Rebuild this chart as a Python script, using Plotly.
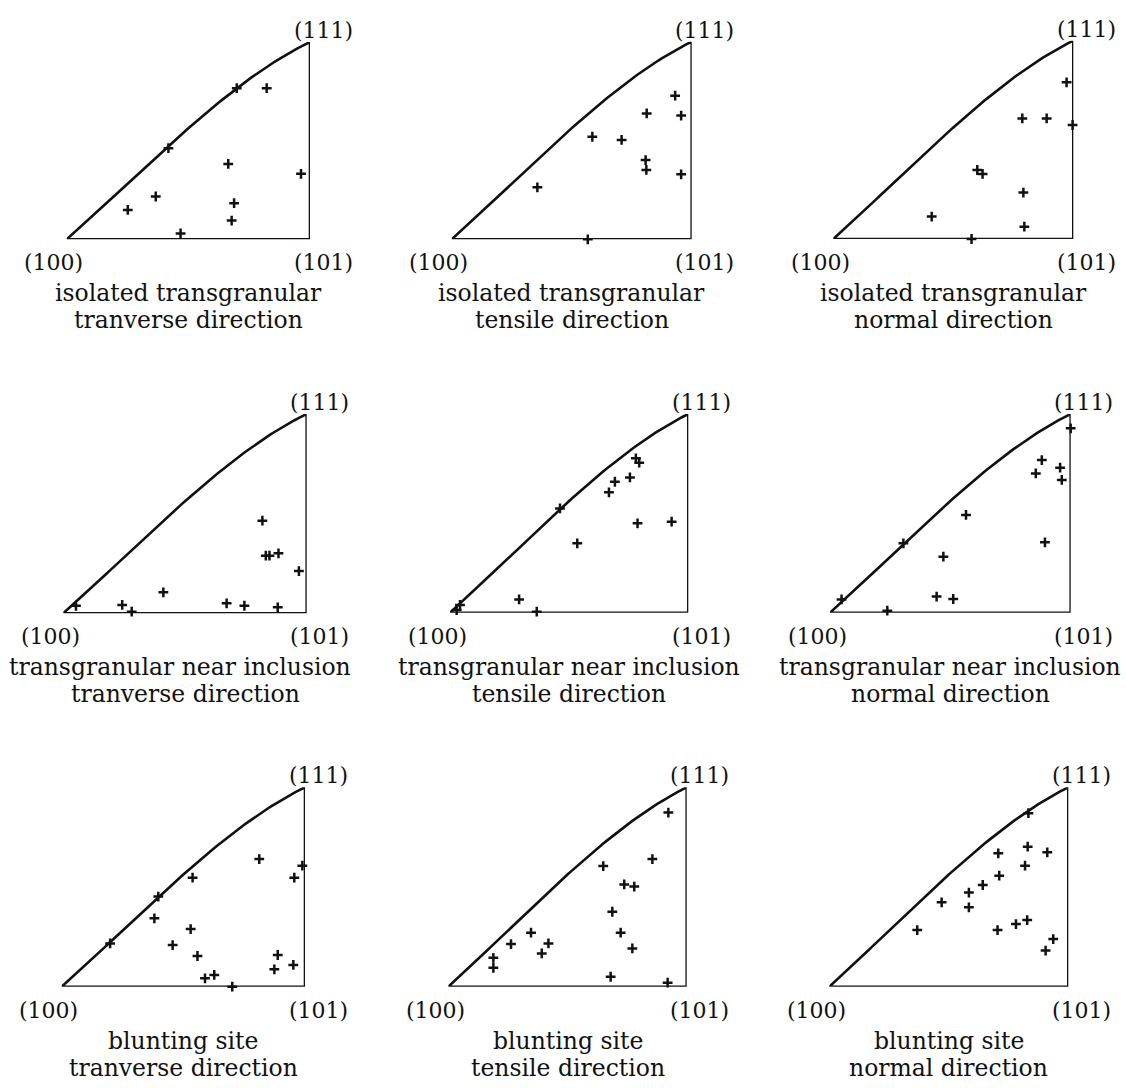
import plotly.graph_objects as go

W, H = 1126, 1088
FONT = "DejaVu Serif"
INK = "#111111"

# ---- data: positions in normalised triangle coordinates ----
# u: 0 at (100) -> 1 at (101); v: 0 on the (100)-(101) edge -> 1 at (111)
p1_u = [0.699, 0.822, 0.418, 0.664, 0.963, 0.366, 0.251, 0.688, 0.678, 0.468]
p1_v = [0.766, 0.766, 0.462, 0.382, 0.332, 0.217, 0.149, 0.183, 0.095, 0.030]

p2_u = [0.931, 0.8125, 0.956, 0.586, 0.708, 0.808, 0.811, 0.956, 0.357, 0.567]
p2_v = [0.727, 0.637, 0.626, 0.519, 0.503, 0.401, 0.351, 0.329, 0.263, 0.0]

p3_u = [0.972, 0.7875, 0.889, 0.997, 0.600, 0.622, 0.792, 0.410, 0.796, 0.576]
p3_v = [0.790, 0.608, 0.608, 0.575, 0.348, 0.328, 0.234, 0.113, 0.062, 0.0]

p4_u = [0.818, 0.832, 0.847, 0.884, 0.968, 0.411, 0.052, 0.242, 0.281, 0.671, 0.744, 0.881]
p4_v = [0.465, 0.289, 0.289, 0.301, 0.212, 0.105, 0.038, 0.042, 0.008, 0.050, 0.038, 0.030]

p5_u = [0.780, 0.794, 0.692, 0.755, 0.667, 0.4615, 0.787, 0.930, 0.534, 0.290, 0.042, 0.028, 0.364]
p5_v = [0.777, 0.755, 0.659, 0.681, 0.606, 0.525, 0.450, 0.458, 0.349, 0.067, 0.039, 0.013, 0.005]

p6_u = [1.0, 0.880, 0.855, 0.956, 0.963, 0.565, 0.893, 0.305, 0.471, 0.443, 0.512, 0.048, 0.238]
p6_v = [0.928, 0.768, 0.701, 0.730, 0.668, 0.492, 0.354, 0.349, 0.282, 0.081, 0.069, 0.067, 0.010]

p7_u = [0.812, 0.989, 0.956, 0.538, 0.397, 0.381, 0.530, 0.199, 0.456, 0.558, 0.888, 0.874, 0.952, 0.589, 0.627, 0.701]
p7_v = [0.640, 0.607, 0.547, 0.547, 0.452, 0.343, 0.289, 0.217, 0.209, 0.154, 0.159, 0.087, 0.109, 0.042, 0.059, 0.0]

p8_u = [0.923, 0.856, 0.650, 0.738, 0.780, 0.688, 0.723, 0.772, 0.347, 0.263, 0.420, 0.392, 0.189, 0.189, 0.681, 0.920]
p8_v = [0.873, 0.640, 0.605, 0.513, 0.502, 0.376, 0.271, 0.192, 0.271, 0.214, 0.217, 0.167, 0.145, 0.095, 0.050, 0.020]

p9_u = [0.833, 0.830, 0.912, 0.707, 0.819, 0.711, 0.642, 0.584, 0.584, 0.470, 0.368, 0.704, 0.781, 0.828, 0.937, 0.905]
p9_v = [0.870, 0.702, 0.674, 0.669, 0.607, 0.557, 0.510, 0.472, 0.398, 0.423, 0.284, 0.284, 0.314, 0.334, 0.239, 0.181]

corner_labels = ["(100)", "(101)", "(111)"]
site_labels = ["isolated transgranular"] * 3 + ["transgranular near inclusion"] * 3 + ["blunting site"] * 3
direction_labels = ["tranverse direction", "tensile direction", "normal direction"] * 3

panels_u = [p1_u, p2_u, p3_u, p4_u, p5_u, p6_u, p7_u, p8_u, p9_u]
panels_v = [p1_v, p2_v, p3_v, p4_v, p5_v, p6_v, p7_v, p8_v, p9_v]

# ---- layout: pixel boxes of each triangle (x0, x1, y_bottom, y_top) ----
boxes = [
    (66.7, 310.0, 239.3, 42.0),
    (451.7, 691.7, 239.3, 41.7),
    (833.3, 1073.3, 239.0, 40.7),
    (63.3, 306.7, 613.3, 414.0),
    (450.0, 688.3, 612.7, 414.0),
    (830.0, 1070.7, 612.7, 414.0),
    (61.7, 305.0, 986.7, 787.3),
    (448.3, 686.7, 986.7, 787.3),
    (829.3, 1068.3, 986.7, 787.3),
]
title_xshift = [0, 0, 0, -5, 0, 0, 0, 0, 0]

# outline of the standard triangle (curved (100)-(111) edge)
n = 80
arc_u = [i / n for i in range(n + 1)]
arc_v = [u + 0.09 * u * (1 - u) + 0.32 * u * u * (1 - u) for u in arc_u]
out_u = arc_u + [1.0, 0.0]
out_v = arc_v + [0.0, 0.0]

fig = go.Figure()
layout = dict(
    width=W, height=H, margin=dict(l=0, r=0, t=0, b=0),
    paper_bgcolor="white", plot_bgcolor="white", showlegend=False,
)
annotations = []

for i, (x0, x1, yb, yt) in enumerate(boxes):
    k = "" if i == 0 else str(i + 1)
    xa, ya = "x" + k, "y" + k
    layout["xaxis" + k] = dict(domain=[x0 / W, x1 / W], range=[0, 1], visible=False,
                               fixedrange=True, anchor=ya)
    layout["yaxis" + k] = dict(domain=[1 - yb / H, 1 - yt / H], range=[0, 1], visible=False,
                               fixedrange=True, anchor=xa)
    fig.add_trace(go.Scatter(
        x=out_u, y=out_v, mode="lines", xaxis=xa, yaxis=ya,
        line=dict(color=INK, width=2.6), cliponaxis=False, hoverinfo="skip"))
    fig.add_trace(go.Scatter(
        x=panels_u[i], y=panels_v[i], mode="markers", xaxis=xa, yaxis=ya,
        marker=dict(symbol="cross-thin", size=7, line=dict(color=INK, width=2.5)),
        cliponaxis=False))

    lab_font = dict(family=FONT, size=22, color=INK)
    tit_font = dict(family=FONT, size=23.5, color=INK)
    common = dict(xref=xa, yref=ya, showarrow=False, xanchor="center", yanchor="middle")
    annotations += [
        dict(text=corner_labels[0], x=0, y=0, xshift=-13, yshift=-23.4, font=lab_font, **common),
        dict(text=corner_labels[1], x=1, y=0, xshift=13, yshift=-23.4, font=lab_font, **common),
        dict(text=corner_labels[2], x=1, y=1, xshift=13, yshift=11.6, font=lab_font, **common),
        dict(text=site_labels[i], x=0.5, y=0, xshift=title_xshift[i], yshift=-53.9,
             font=tit_font, **common),
        dict(text=direction_labels[i], x=0.5, y=0, xshift=0, yshift=-80.9,
             font=tit_font, **common),
    ]

layout["annotations"] = annotations
fig.update_layout(**layout)
fig.write_html("out.html", config={"displayModeBar": False},
               post_script="document.body.style.margin='0px';")
